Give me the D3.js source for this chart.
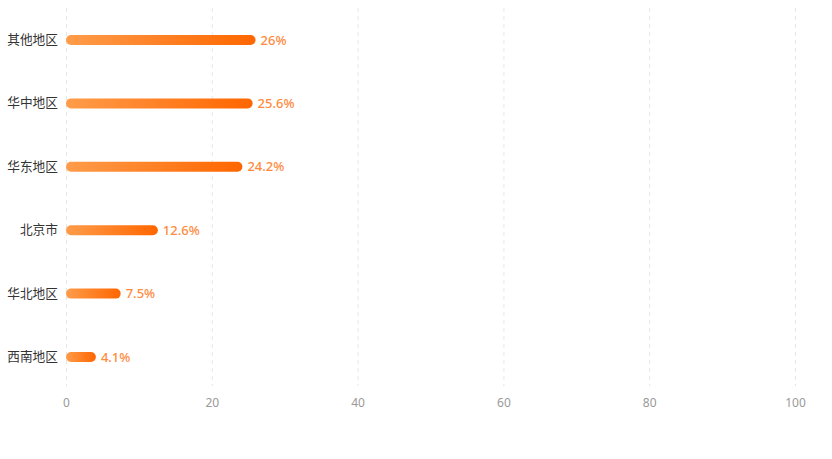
<!DOCTYPE html>
<html><head><meta charset="utf-8">
<script src="https://cdn.jsdelivr.net/npm/d3@7"></script>
<style>body{margin:0;background:#fff;}svg{display:block;font-family:"Noto Sans CJK SC","Noto Sans",sans-serif;}</style>
</head><body>
<svg id="c" width="832" height="459"></svg>
<script>
const categories = ["其他地区","华中地区","华东地区","北京市","华北地区","西南地区"];
const values = [26, 25.6, 24.2, 12.6, 7.5, 4.1];
const tickValues = [0, 20, 40, 60, 80, 100];

(function(){
const svg = d3.select("#c");
const mLeft = 66, mRight = 795, mTop = 8.3, mBottom = 388.7;
const x = d3.scaleLinear().domain([0, 100]).range([mLeft, mRight]);
const y = d3.scaleBand().domain(categories).range([mTop, mBottom]);

const defs = svg.append("defs");
const g = defs.append("linearGradient").attr("id","grad").attr("x1","0%").attr("x2","100%").attr("y1","0%").attr("y2","0%");
g.append("stop").attr("offset","0%").attr("stop-color","#ff9c4a");
g.append("stop").attr("offset","100%").attr("stop-color","#ff6600");

// grid
svg.append("g").selectAll("line").data(tickValues).join("line")
  .attr("x1", d => x(d)+0.5).attr("x2", d => x(d)+0.5)
  .attr("y1", 8).attr("y2", 386)
  .attr("stroke", "#e6e6e6").attr("stroke-dasharray", "4,4").attr("stroke-width", 1);

// x axis labels
const xa = svg.append("g").attr("transform", `translate(0,${392})`)
  .call(d3.axisBottom(x).tickValues(tickValues).tickSize(0).tickPadding(6).tickFormat(d3.format("d")));
xa.select(".domain").remove();
xa.selectAll("text").attr("fill","#999").style("font-size","12px").style("font-family","'Noto Sans','Noto Sans CJK SC',sans-serif");

// y axis labels
const ya = svg.append("g").attr("transform", `translate(${mLeft},0)`)
  .call(d3.axisLeft(y).tickSize(0).tickPadding(8));
ya.select(".domain").remove();
ya.selectAll("text").attr("fill","#333").style("font-size","12.7px").style("font-family","'Noto Sans CJK SC',sans-serif");

const bh = 10;
const data = categories.map((c,i)=>({c, v: values[i]}));
svg.append("g").selectAll("rect").data(data).join("rect")
  .attr("x", x(0)).attr("y", d => y(d.c) + y.bandwidth()/2 - bh/2)
  .attr("width", d => x(d.v) - x(0)).attr("height", bh)
  .attr("rx", bh/2).attr("ry", bh/2)
  .attr("fill", "url(#grad)");

svg.append("g").selectAll("text").data(data).join("text")
  .attr("x", d => x(d.v) + 5).attr("y", d => y(d.c) + y.bandwidth()/2)
  .attr("dy", "0.35em")
  .attr("fill", "#ff8a3d").style("font-size","13px").style("font-weight","500").style("font-family","'Noto Sans','Noto Sans CJK SC',sans-serif")
  .text(d => d.v + "%");
})();
</script>
</body></html>
